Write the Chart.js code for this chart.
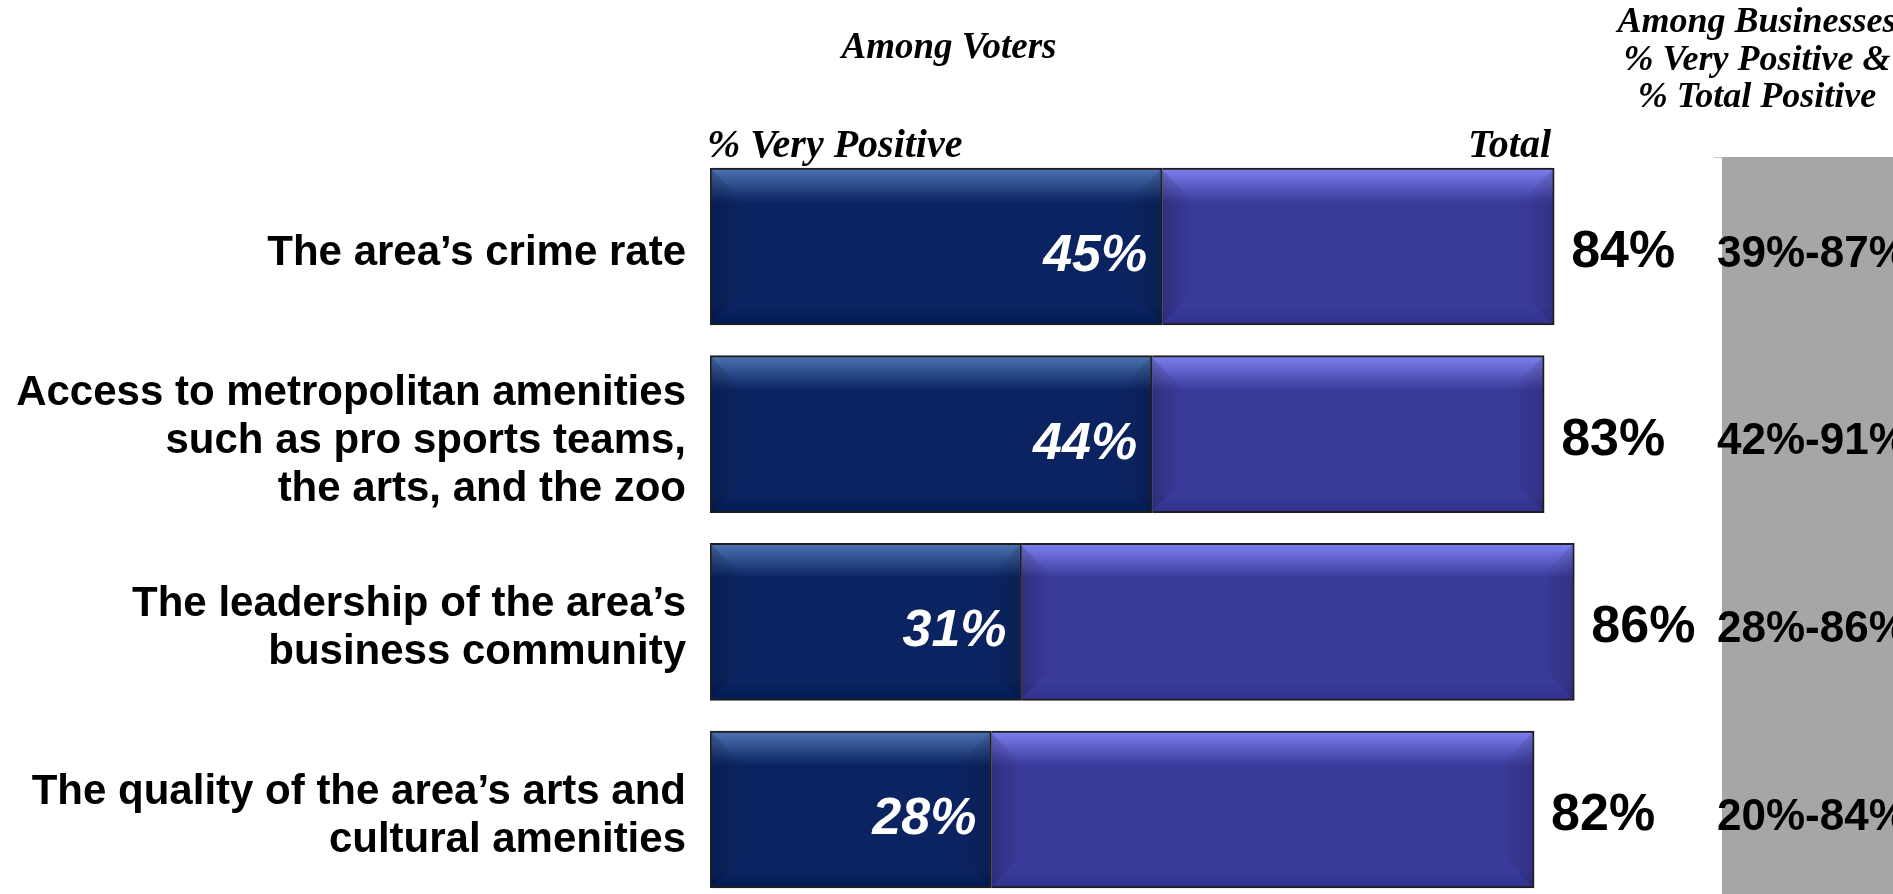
<!DOCTYPE html>
<html>
<head>
<meta charset="utf-8">
<script src="https://cdn.jsdelivr.net/npm/chart.js@4.4.1/dist/chart.umd.min.js"></script>
<style>
html,body{margin:0;padding:0;background:#ffffff;overflow:hidden;}
#wrap{width:1893px;height:894px;overflow:hidden;position:relative;}
</style>
</head>
<body>
<div id="wrap"><canvas id="chart" width="1893" height="910"></canvas></div>
<script>
const categories = [
    ["The area\u2019s crime rate"],
    ["Access to metropolitan amenities", "such as pro sports teams,", "the arts, and the zoo"],
    ["The leadership of the area\u2019s", "business community"],
    ["The quality of the area\u2019s arts and", "cultural amenities"]
];

const veryPositive = [45, 44, 31, 28];
const totalPositive = [84, 83, 86, 82];

const businessVeryPositive = [39, 42, 28, 20];
const businessTotalPositive = [87, 91, 86, 84];

const sansFont = "'Liberation Sans', Arial, sans-serif";
const serifFont = "'Liberation Serif', 'Times New Roman', serif";

function barFill(top, main, bottom){
    return function(context){
        const chart = context.chart;
        if(!chart.chartArea || !chart.scales.y) return main;
        const center = chart.scales.y.getPixelForValue(context.dataIndex);
        const half = 157 / 2;
        const g = chart.ctx.createLinearGradient(0, center - half, 0, center + half);
        g.addColorStop(0, top);
        g.addColorStop(0.22, main);
        g.addColorStop(0.88, main);
        g.addColorStop(1, bottom);
        return g;
    };
}

// side bevels like the original 3d bars
const bevelPlugin = {
    id: "bevel",
    afterDatasetsDraw(chart){
        const ctx = chart.ctx;
        chart.data.datasets.forEach((ds, di)=>{
            chart.getDatasetMeta(di).data.forEach(el=>{
                const p = el.getProps(["x", "y", "base", "height"], true);
                const left = Math.min(p.x, p.base) + (di === 0 ? 2 : 0);
                const right = Math.max(p.x, p.base) - 2;
                const top = p.y - p.height / 2 + 2;
                const bottom = p.y + p.height / 2 - 2;
                const b = 30;

                ctx.save();
                let g = ctx.createLinearGradient(left, 0, left + b, 0);
                g.addColorStop(0, "rgba(0,0,0,0.18)");
                g.addColorStop(1, "rgba(0,0,0,0)");
                ctx.fillStyle = g;
                ctx.beginPath();
                ctx.moveTo(left, top);
                ctx.lineTo(left + b, top + b);
                ctx.lineTo(left + b, bottom - b);
                ctx.lineTo(left, bottom);
                ctx.closePath();
                ctx.fill();

                g = ctx.createLinearGradient(right - b, 0, right, 0);
                g.addColorStop(0, "rgba(0,0,0,0)");
                g.addColorStop(1, "rgba(0,0,0,0.14)");
                ctx.fillStyle = g;
                ctx.beginPath();
                ctx.moveTo(right, top);
                ctx.lineTo(right - b, top + b);
                ctx.lineTo(right - b, bottom - b);
                ctx.lineTo(right, bottom);
                ctx.closePath();
                ctx.fill();
                ctx.restore();
            });
        });
    }
};

const panelPlugin = {
    id: "panel",
    beforeDatasetsDraw(chart){
        const ctx = chart.ctx;
        const area = chart.chartArea;
        ctx.save();
        ctx.fillStyle = "#a6a6a6";
        ctx.fillRect(area.right + 7, 157, chart.width - area.right - 7, chart.height);
        ctx.strokeStyle = "#c8c8c8";
        ctx.lineWidth = 1;
        ctx.beginPath();
        ctx.moveTo(area.right - 1, 157.5);
        ctx.lineTo(area.right + 7, 157.5);
        ctx.stroke();
        ctx.restore();
    }
};

const labelPlugin = {
    id: "labels",
    afterDraw(chart){
        const ctx = chart.ctx;
        const area = chart.chartArea;
        const inner = chart.getDatasetMeta(0).data;
        const outer = chart.getDatasetMeta(1).data;

        ctx.save();
        ctx.textBaseline = "middle";

        inner.forEach((el, i)=>{
            ctx.font = "italic bold 52px " + sansFont;
            ctx.fillStyle = "#ffffff";
            ctx.textAlign = "right";
            ctx.fillText(veryPositive[i] + "%", el.x - 15, el.y + 10);
        });

        outer.forEach((el, i)=>{
            ctx.font = "bold 52px " + sansFont;
            ctx.fillStyle = "#000000";
            ctx.textAlign = "left";
            ctx.fillText(totalPositive[i] + "%", el.x + 17, el.y + 6);

            ctx.font = "bold 44px " + sansFont;
            ctx.fillText(
                businessVeryPositive[i] + "%-" + businessTotalPositive[i] + "%",
                area.right + 2,
                el.y + 8
            );
        });

        ctx.textBaseline = "alphabetic";
        ctx.font = "italic bold 37px " + serifFont;
        ctx.textAlign = "center";
        ctx.fillText("Among Voters", 949, 58);

        ctx.font = "italic bold 40px " + serifFont;
        ctx.textAlign = "left";
        ctx.fillText("% Very Positive", area.left - 3, 157);
        ctx.textAlign = "right";
        ctx.fillText("Total", 1551, 157);

        ctx.font = "italic bold 36px " + serifFont;
        ctx.textAlign = "center";
        ctx.fillText("Among Businesses", 1757, 32);
        ctx.fillText("% Very Positive &", 1757, 69.5);
        ctx.fillText("% Total Positive", 1757, 107);

        ctx.restore();
    }
};

new Chart(document.getElementById("chart"), {
    type: "bar",
    data: {
        labels: categories,
        datasets: [
            {
                label: "% Very Positive",
                data: veryPositive,
                backgroundColor: barFill("#4d74b4", "#0b2461", "#021a52"),
                borderColor: "#1e1e1e",
                borderWidth: 2,
                borderSkipped: false,
                barThickness: 157
            },
            {
                label: "Total",
                data: veryPositive.map((v, i)=>[v, totalPositive[i]]),
                backgroundColor: barFill("#7f80f2", "#3a3a9a", "#31318e"),
                borderColor: "#1e1e1e",
                borderWidth: {top: 2, right: 2, bottom: 2, left: 0},
                borderSkipped: false,
                barThickness: 157
            }
        ]
    },
    options: {
        indexAxis: "y",
        responsive: false,
        animation: false,
        layout: {
            padding: {top: 152.65, right: 178, bottom: 6.65, left: 0}
        },
        plugins: {
            legend: {display: false},
            tooltip: {enabled: false}
        },
        scales: {
            x: {
                display: false,
                min: 0,
                max: 100
            },
            y: {
                border: {display: false},
                grid: {display: false, drawTicks: false},
                ticks: {
                    color: "#000000",
                    padding: 24,
                    labelOffset: 7,
                    font: {family: sansFont, size: 42, weight: "bold", lineHeight: 1.14}
                },
                afterFit(scale){
                    scale.width = 710;
                    scale.paddingTop = 0;
                    scale.paddingBottom = 0;
                }
            }
        },
        datasets: {
            bar: {grouped: false}
        }
    },
    plugins: [panelPlugin, bevelPlugin, labelPlugin]
});
</script>
</body>
</html>
